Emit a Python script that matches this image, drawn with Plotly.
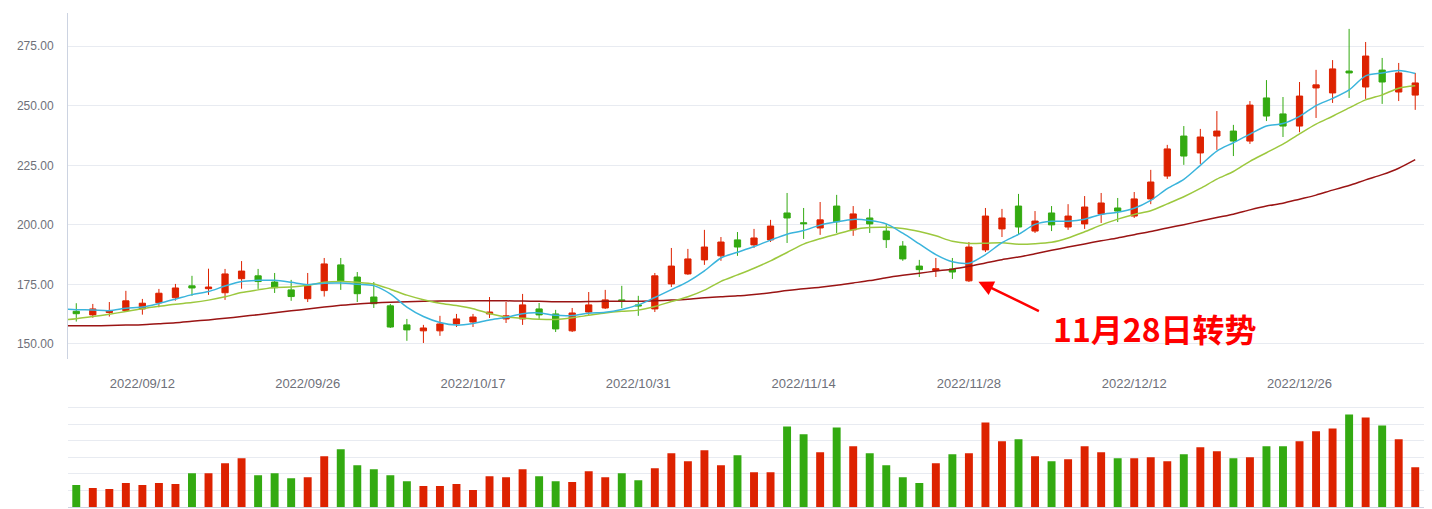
import plotly.graph_objects as go

prev_date = "2022/09/05"
dates = [
    "2022/09/06", "2022/09/07", "2022/09/08", "2022/09/09", "2022/09/12", "2022/09/13", "2022/09/14",
    "2022/09/15", "2022/09/16", "2022/09/19", "2022/09/20", "2022/09/21", "2022/09/22", "2022/09/23",
    "2022/09/26", "2022/09/27", "2022/09/28", "2022/09/29", "2022/09/30", "2022/10/10", "2022/10/11",
    "2022/10/12", "2022/10/13", "2022/10/14", "2022/10/17", "2022/10/18", "2022/10/19", "2022/10/20",
    "2022/10/21", "2022/10/24", "2022/10/25", "2022/10/26", "2022/10/27", "2022/10/28", "2022/10/31",
    "2022/11/01", "2022/11/02", "2022/11/03", "2022/11/04", "2022/11/07", "2022/11/08", "2022/11/09",
    "2022/11/10", "2022/11/11", "2022/11/14", "2022/11/15", "2022/11/16", "2022/11/17", "2022/11/18",
    "2022/11/21", "2022/11/22", "2022/11/23", "2022/11/24", "2022/11/25", "2022/11/28", "2022/11/29",
    "2022/11/30", "2022/12/01", "2022/12/02", "2022/12/05", "2022/12/06", "2022/12/07", "2022/12/08",
    "2022/12/09", "2022/12/12", "2022/12/13", "2022/12/14", "2022/12/15", "2022/12/16", "2022/12/19",
    "2022/12/20", "2022/12/21", "2022/12/22", "2022/12/23", "2022/12/26", "2022/12/27", "2022/12/28",
    "2022/12/29", "2022/12/30", "2023/01/03", "2023/01/04", "2023/01/05",
]
tick_dates = ["2022/09/12", "2022/09/26", "2022/10/17", "2022/10/31",
              "2022/11/14", "2022/11/28", "2022/12/12", "2022/12/26"]

open_ = [163.7, 162.2, 163.2, 164.0, 164.7, 167.3, 169.4, 174.4, 173.2, 171.5,
         177.4, 178.6, 176.0, 172.7, 169.0, 172.4, 183.2, 178.1, 169.7, 166.0,
         158.0, 155.5, 155.5, 158.4, 159.2, 162.6, 160.5, 160.5, 164.7, 162.6,
         155.5, 163.4, 165.1, 168.5, 166.4, 164.7, 175.2, 179.4, 185.3, 187.0,
         193.7, 191.6, 193.7, 205.0, 200.9, 198.7, 207.9, 197.9, 202.9, 197.4,
         191.1, 182.7, 180.8, 181.5, 176.5, 189.5, 198.3, 207.9, 197.4, 205.0,
         199.1, 200.4, 204.6, 207.1, 203.7, 210.9, 220.5, 237.3, 230.2, 237.3,
         239.4, 235.2, 253.3, 246.6, 241.5, 257.5, 255.4, 264.6, 257.9, 265.0,
         255.8, 254.5]
high = [167.1, 166.8, 167.6, 172.3, 168.9, 173.1, 175.2, 178.6, 181.6, 181.5,
        184.8, 181.5, 179.8, 176.9, 179.8, 186.1, 186.1, 180.2, 176.0, 166.8,
        160.5, 158.0, 161.8, 162.6, 162.6, 169.7, 167.6, 171.0, 167.2, 164.3,
        165.1, 171.8, 172.7, 174.4, 170.2, 179.8, 190.3, 189.9, 197.9, 194.9,
        197.0, 198.3, 202.1, 213.4, 207.1, 209.6, 212.6, 207.9, 206.7, 200.4,
        193.2, 185.3, 186.1, 186.1, 192.8, 207.1, 206.7, 213.0, 205.8, 207.9,
        208.7, 212.1, 213.4, 211.3, 213.8, 223.1, 233.6, 241.5, 240.3, 247.8,
        242.0, 252.0, 260.8, 253.7, 260.0, 265.1, 269.2, 282.3, 276.8, 270.1,
        268.0, 263.8]
low = [159.4, 161.0, 161.5, 163.6, 162.3, 165.4, 168.2, 170.2, 170.6, 168.5,
       173.2, 173.1, 171.4, 168.1, 167.6, 169.9, 172.7, 167.6, 165.1, 156.7,
       151.3, 150.4, 153.4, 157.1, 157.1, 160.9, 158.8, 158.0, 160.5, 155.0,
       155.0, 162.2, 164.7, 165.1, 161.8, 163.4, 173.9, 179.0, 183.2, 184.9,
       187.0, 190.3, 192.8, 192.4, 194.1, 195.8, 196.6, 195.4, 196.6, 190.3,
       184.9, 178.1, 178.1, 177.3, 176.0, 188.6, 194.9, 195.8, 196.6, 197.4,
       197.9, 198.3, 200.8, 201.2, 202.9, 208.7, 219.3, 225.2, 225.6, 231.5,
       228.9, 234.0, 243.6, 236.9, 238.9, 244.9, 251.2, 253.3, 252.9, 250.8,
       252.0, 248.3]
close = [162.7, 164.7, 163.8, 168.1, 167.1, 171.3, 173.5, 173.5, 173.9, 179.4,
         180.6, 176.2, 173.6, 169.9, 174.4, 183.6, 176.5, 171.1, 166.9, 157.1,
         155.9, 156.7, 158.4, 160.5, 161.3, 163.4, 161.8, 166.4, 162.2, 156.3,
         163.0, 166.4, 168.5, 168.1, 166.0, 178.6, 182.7, 185.7, 190.7, 192.8,
         190.7, 194.5, 199.5, 202.9, 200.5, 202.1, 201.3, 204.6, 200.4, 193.8,
         185.7, 181.2, 181.6, 180.2, 190.7, 203.7, 202.9, 199.1, 201.6, 200.0,
         203.7, 207.5, 209.2, 205.8, 210.9, 218.0, 231.9, 228.9, 236.9, 239.4,
         235.2, 250.3, 245.7, 241.5, 254.1, 258.8, 265.5, 263.8, 270.9, 260.0,
         263.8, 259.6]
volume = [26.4, 22.8, 21.6, 28.8, 26.4, 28.8, 27.6, 40.8, 40.8, 52.8,
          58.8, 38.4, 40.8, 34.8, 36.0, 61.2, 69.6, 50.4, 45.6, 38.4,
          31.2, 25.2, 25.2, 27.6, 20.4, 37.2, 36.0, 45.6, 37.2, 31.2,
          30.0, 43.2, 36.0, 40.8, 32.4, 46.8, 64.8, 55.2, 68.4, 50.4,
          62.4, 42.0, 42.0, 97.2, 87.6, 66.0, 96.0, 73.2, 64.8, 50.4,
          36.0, 28.8, 52.8, 63.6, 64.8, 102.0, 79.2, 81.6, 61.2, 55.2,
          57.6, 73.2, 66.0, 58.8, 58.8, 60.0, 55.2, 63.6, 72.0, 67.2,
          58.8, 60.0, 73.2, 73.2, 79.2, 91.2, 94.8, 111.6, 108.0, 98.4,
          81.6, 48.0]
# moving averages as drawn (first value belongs to prev_date, just left of the view)
ma5 = [164.7, 164.4, 164.3, 164.0, 165.0, 165.5, 167.0, 168.8, 170.7, 172.0, 174.3,
       176.2, 176.7, 176.7, 175.9, 174.9, 175.5, 175.6, 175.1, 174.5, 171.0,
       165.5, 161.5, 159.0, 157.9, 158.6, 160.1, 161.1, 162.7, 163.0, 162.0,
       161.9, 162.9, 163.3, 164.5, 166.4, 169.5, 172.8, 176.2, 180.7, 186.1,
       188.5, 190.9, 193.6, 196.1, 197.6, 199.9, 201.3, 202.3, 201.8, 200.4,
       196.5, 192.0, 187.5, 184.5, 183.9, 187.5, 192.5, 196.0, 200.2, 201.5,
       201.5, 202.4, 204.4, 205.3, 207.0, 210.3, 215.2, 219.1, 225.0, 231.0,
       234.5, 238.1, 241.5, 242.6, 245.6, 250.1, 253.1, 256.7, 262.6, 263.8,
       264.8, 263.6]
ma10 = [159.9, 160.6, 161.5, 162.5, 163.6, 164.8, 165.8, 166.7, 167.4, 168.4, 169.8,
        171.6, 172.7, 173.7, 173.9, 174.6, 175.9, 176.2, 175.9, 175.2, 173.0,
        170.5, 168.6, 167.1, 166.1, 164.8, 162.8, 161.3, 160.8, 160.4, 160.3,
        161.0, 162.0, 163.0, 163.7, 164.2, 165.7, 167.8, 169.8, 172.6, 176.3,
        179.0, 181.8, 184.9, 188.4, 191.9, 194.2, 196.1, 198.0, 198.9, 199.0,
        198.5, 197.2, 195.4, 193.1, 192.2, 192.3, 192.5, 191.9, 192.1, 192.7,
        194.5, 197.1, 199.9, 202.4, 204.4, 205.9, 208.8, 211.8, 215.3, 219.2,
        222.4, 226.7, 230.3, 233.9, 238.2, 242.3, 245.6, 249.1, 252.5, 254.6,
        257.4, 258.4]
ma30 = [157.6, 157.6, 157.6, 157.7, 157.9, 158.1, 158.5, 158.9, 159.5, 160.1, 160.8,
        161.5, 162.3, 163.1, 163.9, 164.7, 165.5, 166.2, 166.8, 167.2, 167.5,
        167.7, 167.9, 168.0, 168.0, 168.1, 168.1, 168.1, 168.0, 167.9, 167.7,
        167.7, 167.8, 167.9, 167.9, 167.9, 168.1, 168.4, 168.8, 169.4, 169.8,
        170.2, 170.8, 171.5, 172.4, 173.2, 173.8, 174.6, 175.6, 176.6, 177.8,
        178.8, 179.7, 180.6, 181.4, 182.6, 184.0, 185.4, 186.5, 187.9, 189.3,
        190.7, 192.0, 193.3, 194.5, 195.9, 197.2, 198.7, 200.1, 201.6, 203.1,
        204.5, 206.3, 207.9, 209.1, 210.8, 212.5, 214.6, 216.5, 218.9, 221.1,
        223.8, 227.4]

RED = "#DD2200"
GREEN = "#33AA11"
all_dates = [prev_date] + dates
vol_colors = [RED if c >= o else GREEN for o, c in zip(open_, close)]

fig = go.Figure()
fig.add_trace(go.Candlestick(
    x=dates, open=open_, high=high, low=low, close=close,
    increasing=dict(line=dict(color=RED, width=1), fillcolor=RED),
    decreasing=dict(line=dict(color=GREEN, width=1), fillcolor=GREEN),
    xaxis="x", yaxis="y", showlegend=False, name="K"))
for vals, col in [(ma30, "#9A1414"), (ma10, "#9CC83E"), (ma5, "#3AB4DC")]:
    fig.add_trace(go.Scatter(
        x=all_dates, y=vals, mode="lines",
        line=dict(color=col, width=1.5, shape="spline", smoothing=0.8),
        xaxis="x", yaxis="y", showlegend=False, cliponaxis=True))
fig.add_trace(go.Bar(x=dates, y=volume, marker=dict(color=vol_colors, line=dict(width=0)),
                     xaxis="x2", yaxis="y2", showlegend=False))

W, H = 1432, 509
xdom = [68 / W, 1423.5 / W]
font = dict(family="Liberation Sans, Arial, sans-serif", size=12, color="#6E7079")
grid = "#E8EBF1"
axline = "#CCD3E1"

fig.update_layout(
    width=W, height=H, margin=dict(l=0, r=0, t=0, b=0),
    paper_bgcolor="white", plot_bgcolor="white", font=font,
    boxgap=0.46, bargap=0.52, showlegend=False,
    xaxis=dict(domain=xdom, type="category", categoryorder="array", categoryarray=all_dates,
               range=[0.5, len(all_dates) - 0.5], rangeslider=dict(visible=False),
               tickmode="array", tickvals=tick_dates, ticktext=tick_dates,
               ticks="outside", ticklen=13, tickcolor="rgba(0,0,0,0)",
               tickfont=dict(size=13, color="#6E7079"),
               showgrid=False, showline=False, zeroline=False, anchor="y"),
    yaxis=dict(domain=[1 - 358.7 / H, 1 - 13.3 / H], range=[143.8, 288.85],
               tick0=0, dtick=25, tickformat=".2f", gridcolor=grid, gridwidth=1,
               showline=True, linecolor=axline, linewidth=1, zeroline=False,
               ticks="outside", ticklen=11, tickcolor="rgba(0,0,0,0)", anchor="x"),
    xaxis2=dict(domain=xdom, type="category", categoryorder="array", categoryarray=all_dates,
                range=[0.5, len(all_dates) - 0.5], showticklabels=False, showgrid=False,
                showline=True, linecolor=axline, linewidth=1, zeroline=False, anchor="y2"),
    yaxis2=dict(domain=[1 - 507 / H, 1 - 405.5 / H], range=[0, 122.4], dtick=20,
                showticklabels=False, gridcolor=grid, zeroline=False, showline=False,
                anchor="x2"),
)

fig.add_annotation(x="2022/11/28", y=176.1, xref="x", yref="y", xshift=9.5,
                   ax=62, ay=30, axref="pixel", ayref="pixel", text="",
                   showarrow=True, arrowhead=2, arrowsize=1.2, arrowwidth=2.5,
                   arrowcolor="#FF0000", standoff=0)
fig.add_annotation(x=1155 / W, y=1 - 327.5 / H, xref="paper", yref="paper",
                   text="<b>11月28日转势</b>", showarrow=False, xanchor="center", yanchor="middle",
                   font=dict(family="Noto Sans CJK SC", size=32, color="#FF0000"))

fig.write_html("out.html")
